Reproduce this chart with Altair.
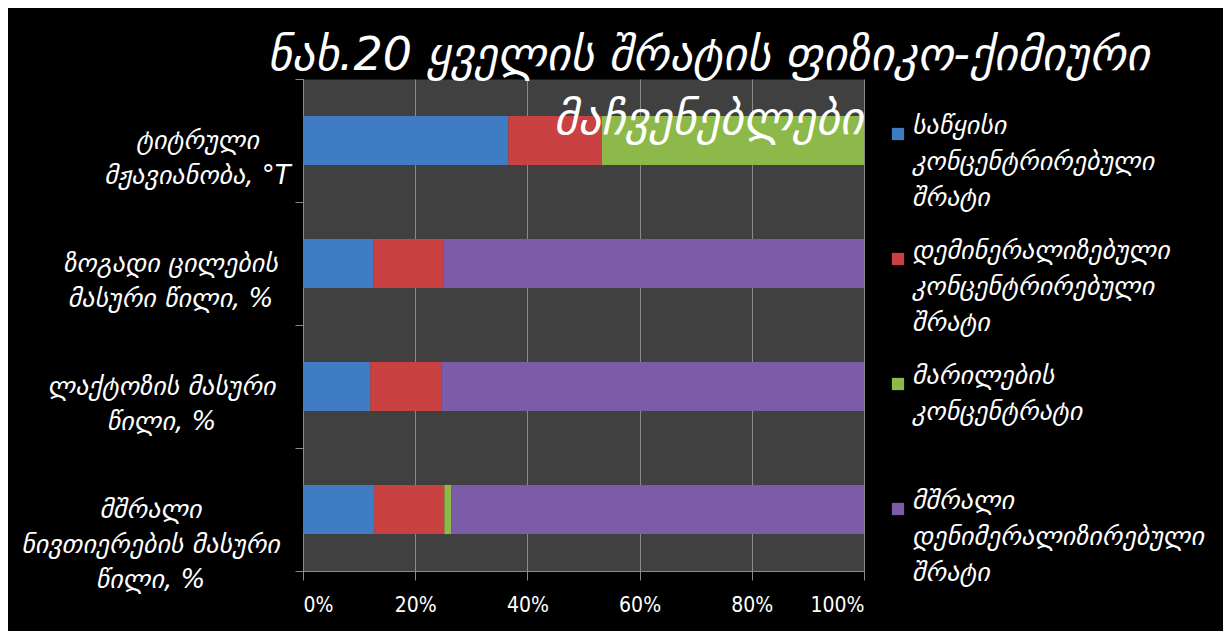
import altair as alt
import pandas as pd

# ---- data ----
categories = [
    "ტიტრული|მჟავიანობა, °T",
    "ზოგადი ცილების|მასური წილი, %",
    "ლაქტოზის მასური|წილი, %",
    "მშრალი|ნივთიერების მასური|წილი,  %",
]
series = [
    "საწყისი|კონცენტრირებული|შრატი",
    "დემინერალიზებული|კონცენტრირებული|შრატი",
    "მარილების|კონცენტრატი",
    "მშრალი|დენიმერალიზირებული|შრატი",
]
colors = ["#3F7CC4", "#C94141", "#8DB94A", "#7C5BA8"]

initial_whey = [36.6, 12.5, 12.0, 12.7]
demineralized_whey = [16.7, 12.6, 12.7, 12.5]
salt_concentrate = [46.7, 0.0, 0.0, 1.2]
dry_whey = [0.0, 74.9, 75.3, 73.6]
x_ticks = [0, 0.2, 0.4, 0.6, 0.8, 1.0]
title_lines = ["ნახ.20 ყველის შრატის ფიზიკო-ქიმიური", "მაჩვენებლები"]

all_values = [initial_whey, demineralized_whey, salt_concentrate, dry_whey]
rows = []
for si, (s, vals) in enumerate(zip(series, all_values)):
    for c, v in zip(categories, vals):
        if v > 0:
            rows.append({"category": c, "series": s, "value": v, "idx": si})
df = pd.DataFrame(rows)

label_pad = {
    "condition": [
        {"test": f"datum.value == '{categories[0]}'", "value": 98},
        {"test": f"datum.value == '{categories[1]}'", "value": 125},
        {"test": f"datum.value == '{categories[2]}'", "value": 134},
    ],
    "value": 145,
}

geo_font = "DejaVu Sans"
grid_gray = "#8a8a8a"

chart = (
    alt.Chart(df)
    .mark_bar(height=alt.RelativeBandSize(band=0.4))
    .encode(
        y=alt.Y(
            "category:N",
            sort=categories,
            title="",
            scale=alt.Scale(paddingInner=0, paddingOuter=0),
            axis=alt.Axis(
                labelExpr="split(datum.label, '|')",
                labelFont=geo_font,
                labelFontStyle="italic",
                labelFontSize=26,
                labelColor="white",
                labelLineHeight=35,
                labelAlign="center",
                labelBaseline="middle",
                labelPadding=label_pad,
                labelLimit=400,
                tickBand="extent",
                tickSize=8,
                tickColor=grid_gray,
                domainColor=grid_gray,
                grid=False,
            ),
        ),
        x=alt.X(
            "value:Q",
            stack="normalize",
            title="",
            scale=alt.Scale(domain=[0, 1]),
            axis=alt.Axis(
                format="%",
                values=x_ticks,
                labelFont="DejaVu Sans Condensed, DejaVu Sans",
                labelFontSize=21,
                labelColor="white",
                labelPadding=14,
                tickSize=9,
                tickColor=grid_gray,
                domainColor=grid_gray,
                grid=True,
                gridColor=grid_gray,
                gridWidth=1,
            ),
        ),
        color=alt.Color(
            "series:N",
            sort=series,
            scale=alt.Scale(domain=series, range=colors),
            legend=alt.Legend(
                title="",
                orient="none",
                legendX=582,
                legendY=42,
                direction="vertical",
                labelExpr="split(datum.label, '|')",
                labelFont=geo_font,
                labelFontStyle="italic",
                labelFontSize=26,
                labelColor="white",
                labelBaseline="alphabetic",
                labelLimit=400,
                labelOffset=1,
                symbolType="square",
                symbolSize=150,
                symbolStrokeWidth=0,
                symbolOpacity=1,
                gridAlign="all",
                rowPadding=27,
            ),
        ),
        order=alt.Order("idx:Q"),
    )
    .properties(
        width=561,
        height=492,
        autosize=alt.AutoSizeParams(type="none"),
        padding={"left": 295, "top": 71, "right": 359, "bottom": 60},
        background="black",
        title=alt.TitleParams(
            text=title_lines,
            anchor="middle",
            dx=125,
            dy=124,
            font=geo_font,
            fontSize=46,
            fontStyle="italic",
            fontWeight="normal",
            color="white",
            lineHeight=64,
            baseline="top",
            offset=46,
        ),
    )
    .configure(
        view=alt.ViewConfig(fill="#404040", stroke="transparent"),
        style={"guide-label": {"lineHeight": 36}},
    )
)

chart.save("out.html", embed_options={"renderer": "svg", "actions": False})
